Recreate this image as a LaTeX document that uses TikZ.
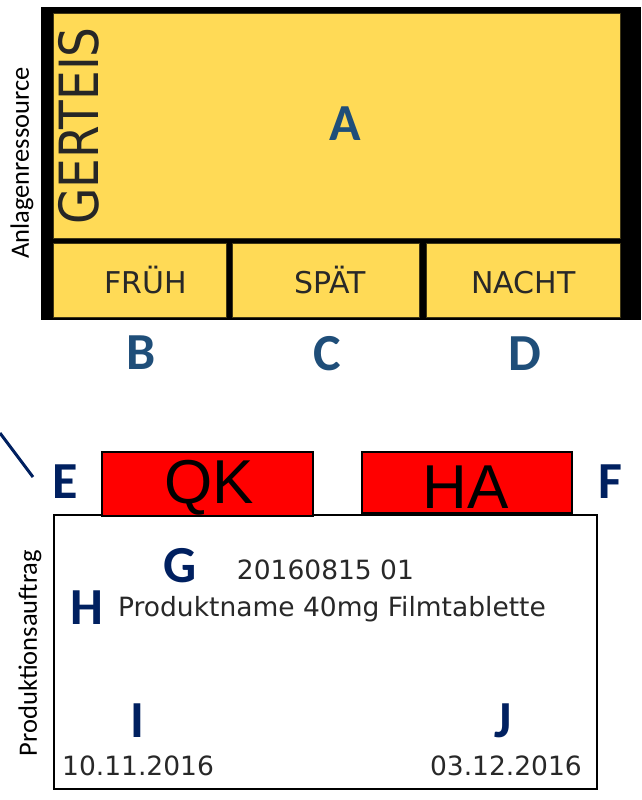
\documentclass[tikz,border=0pt]{standalone}
\usepackage{fontspec}
\setmainfont{DejaVu Sans}
\newfontfamily\carl{Carlito}
\newfontfamily\libsans{Liberation Sans}
\newfontfamily\dvs{DejaVu Sans}
\definecolor{panelyellow}{RGB}{255,218,86}
\definecolor{labelblue}{RGB}{31,78,121}
\definecolor{labelnavy}{RGB}{0,32,96}
\definecolor{redbox}{RGB}{255,0,0}
\definecolor{textgray}{RGB}{40,40,40}
\begin{document}
\begin{tikzpicture}[x=1pt,y=-1pt,
  lblA/.style={font=\carl\bfseries\fontsize{52}{52}\selectfont, text=labelblue, inner sep=0pt},
  lblE/.style={font=\carl\bfseries\fontsize{52}{52}\selectfont, text=labelnavy, inner sep=0pt},
  yellowbox/.style={draw=black!75!panelyellow, line width=0.8pt, fill=panelyellow},
  shifttext/.style={font=\dvs\fontsize{30}{30}\selectfont, text=textgray, inner sep=0pt, anchor=base},
  ordertext/.style={font=\dvs\fontsize{26.5}{26.5}\selectfont, text=textgray, inner sep=0pt, anchor=base},
  sidetext/.style={font=\carl\fontsize{26.5}{26.5}\selectfont, text=black, inner sep=0pt, rotate=90},
  redtag/.style={draw=black, line width=2pt, fill=redbox},
  tagtext/.style={font=\libsans\fontsize{62}{62}\selectfont, text=black, inner sep=0pt, anchor=base},
  orderbox/.style={draw=black, line width=2.5pt, fill=white}
]
\useasboundingbox (0,0) rectangle (641,800);

% ---------- top panel ----------
\fill[black] (41,7.5) rectangle (641,319.5);
\draw[yellowbox] (53,13) rectangle (620,238);
\draw[yellowbox] (53,243) rectangle (226,317);
\draw[yellowbox] (232,243) rectangle (419,317);
\draw[yellowbox] (426,243) rectangle (620,317);

\node[sidetext] (anlage) at (22,163) {Anlagenressource};
\node[font=\dvs\fontsize{47}{47}\selectfont, text=black!85, inner sep=0pt, rotate=90]
  (gerteis) at (79,126) {\scalebox{1}[1.15]{GERTEIS}};
\node[lblA] (A) at (345,124) {A};
\node[shifttext] (frueh) at (145.5,293) {FRÜH};
\node[shifttext] (spaet) at (330,293) {SPÄT};
\node[shifttext] (nacht) at (523.5,293) {NACHT};
\node[lblA] (B) at (141.5,353) {B};
\node[lblA] (C) at (327.5,354) {C};
\node[lblA] (D) at (525,354) {D};

% ---------- bottom panel ----------
\coordinate (diagA) at (0,433);
\coordinate (diagB) at (33,477);
\draw[labelnavy, line width=3pt] (diagA) -- (diagB);

\draw[orderbox] (54,515) rectangle (597,789);
\draw[redtag] (102,452) rectangle (313,516);
\draw[redtag] (362,452) rectangle (572,513);
\node[tagtext] (qk) at (209,503) {QK};
\node[tagtext] (ha) at (466,508) {HA};

\node[lblE] (E) at (65,482) {E};
\node[lblE] (F) at (610,482) {F};
\node[sidetext] (auftrag) at (30,653) {Produktionsauftrag};

\node[lblE] (G) at (180,566) {G};
\node[lblE] (H) at (87,608) {H};
\node[lblE] (I) at (137,721) {I};
\node[lblE] (J) at (503,721) {J};

\node[ordertext] (num) at (325.5,579) {20160815 01};
\node[ordertext] (prod) at (332,616) {Produktname 40mg Filmtablette};
\node[ordertext, anchor=base west] (start) at (62,775) {10.11.2016};
\node[ordertext, anchor=base east] (ende) at (582,775) {03.12.2016};
\end{tikzpicture}
\end{document}
